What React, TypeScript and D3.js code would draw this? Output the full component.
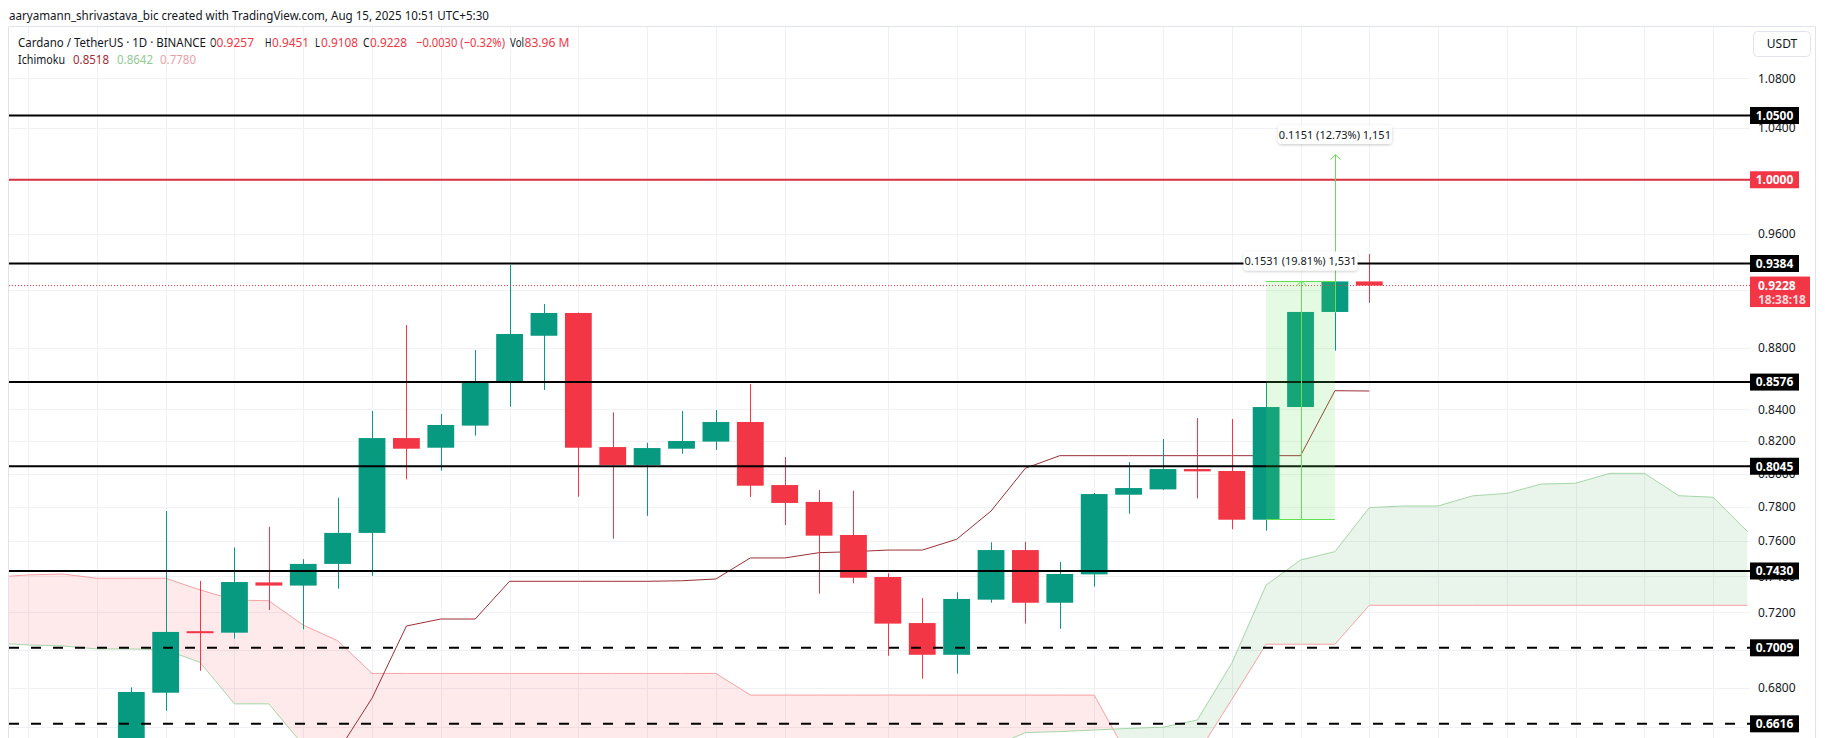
import React from "react";
import * as d3 from "d3";

const W = 1825;
const H = 738;
const plot = { left: 9, right: 1750, top: 27, bottom: 738 };

// daily candles, Jul 10 -> Aug 15 2025 : [open, high, low, close]
const candles: [number, number, number, number][] = [
  [0.638, 0.6802, 0.63, 0.6778],
  [0.6774, 0.7776, 0.6682, 0.7094],
  [0.7098, 0.7374, 0.6888, 0.709],
  [0.709, 0.7563, 0.7058, 0.7368],
  [0.7366, 0.7684, 0.7213, 0.7348],
  [0.7348, 0.7497, 0.7108, 0.747],
  [0.747, 0.7855, 0.7331, 0.7648],
  [0.7648, 0.839, 0.7403, 0.8219],
  [0.8219, 0.8956, 0.7966, 0.8153],
  [0.8159, 0.8371, 0.8018, 0.8301],
  [0.8297, 0.8787, 0.8234, 0.8575],
  [0.8583, 0.9373, 0.8417, 0.8895],
  [0.8883, 0.91, 0.8525, 0.9038],
  [0.9038, 0.904, 0.7861, 0.8159],
  [0.8163, 0.8381, 0.7615, 0.8053],
  [0.8053, 0.819, 0.7748, 0.8157],
  [0.8153, 0.839, 0.8122, 0.8201],
  [0.8197, 0.8396, 0.8145, 0.832],
  [0.832, 0.8563, 0.7859, 0.7927],
  [0.7931, 0.8102, 0.7694, 0.7824],
  [0.783, 0.7901, 0.7303, 0.7632],
  [0.7636, 0.7897, 0.7361, 0.7392],
  [0.7396, 0.7417, 0.6967, 0.7139],
  [0.7142, 0.7279, 0.6847, 0.6972],
  [0.6972, 0.7311, 0.6873, 0.7274],
  [0.727, 0.7594, 0.7253, 0.7549],
  [0.7549, 0.7597, 0.7139, 0.7253],
  [0.7253, 0.7481, 0.7111, 0.7413],
  [0.7411, 0.7883, 0.7342, 0.7877],
  [0.7873, 0.8071, 0.776, 0.7913],
  [0.7905, 0.8213, 0.7901, 0.8028],
  [0.8028, 0.8345, 0.7851, 0.8014],
  [0.8016, 0.8339, 0.7669, 0.7725],
  [0.7725, 0.8576, 0.7661, 0.8415],
  [0.8415, 0.906, 0.84, 0.9045],
  [0.9045, 0.938, 0.8783, 0.9257],
  [0.9257, 0.9451, 0.9108, 0.9228],
];

// ichimoku base line, one value per candle
const baseLine = [
  0.62, 0.62, 0.62, 0.62, 0.62, 0.624, 0.6476, 0.6746, 0.7126, 0.7164, 0.7164,
  0.7372, 0.7372, 0.7372, 0.7372, 0.7372, 0.7375, 0.7385, 0.7504, 0.7504,
  0.7534, 0.754, 0.7549, 0.7549, 0.7611, 0.7776, 0.8033, 0.811, 0.811, 0.811,
  0.811, 0.811, 0.811, 0.811, 0.811, 0.852, 0.8518,
];

// leading spans (cloud), first value sits at bar index -4
const cloudStart = -4;
const leadA = [
  0.7035, 0.7024, 0.7019, 0.7003, 0.7003, 0.6998, 0.6932, 0.6717, 0.6717,
  0.651, 0.638, 0.633, 0.631, 0.629, 0.629, 0.626, 0.624, 0.624, 0.623, 0.623,
  0.625, 0.627, 0.629, 0.631, 0.633, 0.635, 0.638, 0.642, 0.646, 0.65, 0.6572,
  0.6577, 0.6585, 0.6593, 0.6599, 0.6635, 0.6927, 0.7351, 0.7492, 0.754,
  0.7796, 0.7806, 0.7806, 0.7866, 0.7881, 0.7937, 0.7942, 0.8002, 0.8002,
  0.7867, 0.7858, 0.7655,
];
const leadB = [
  0.7395, 0.7408, 0.7413, 0.7389, 0.7389, 0.7389, 0.7324, 0.7268, 0.7264,
  0.7131, 0.7047, 0.6874, 0.6874, 0.6874, 0.6874, 0.6874, 0.6874, 0.6874,
  0.6874, 0.6874, 0.6874, 0.6874, 0.6762, 0.6762, 0.6762, 0.6762, 0.6762,
  0.6762, 0.6762, 0.6762, 0.6762, 0.6762, 0.6762, 0.6451, 0.645, 0.6466,
  0.6739, 0.7028, 0.7028, 0.7028, 0.7239, 0.7239, 0.7239, 0.7239, 0.7239,
  0.7239, 0.7239, 0.7239, 0.7239, 0.7239, 0.7239, 0.7239,
];

const levelsSolid = [1.05, 0.9384, 0.8576, 0.8045, 0.743];
const levelsDashed = [0.7009, 0.6616];
const redLevel = 1.0;
const lastPrice = 0.9228;
const countdown = "18:38:18";

const yTicks = [1.08, 1.04, 1.0, 0.96, 0.92, 0.88, 0.84, 0.82, 0.8, 0.78, 0.76, 0.74, 0.72, 0.7, 0.68, 0.66];
// labels that the price tags cover completely are not printed
const hiddenTickLabels = [1.0, 0.92, 0.7];
// bar indices where the time axis puts a grid line
const gridBars = [-3, -1, 1, 3, 5, 7, 9, 11, 13, 15, 17, 19, 22, 24, 26, 28, 30, 32, 34, 36, 38, 40, 42, 44, 46];

const measures = [
  { from: 33, to: 35, at: 34, p0: 0.7729, p1: 0.926, label: "0.1531 (19.81%) 1,531", box: true },
  { from: 35, to: 35, at: 35, p0: 0.9042, p1: 1.0193, label: "0.1151 (12.73%) 1,151", box: false },
];

const legendMain = [
  { t: "Cardano / TetherUS · 1D · BINANCE", x: 18, w: 188, c: "#131722" },
  { t: "O", x: 210, w: 6.5, c: "#131722" },
  { t: "0.9257", x: 216.5, w: 37.5, c: "#f23645" },
  { t: "H", x: 265, w: 6.5, c: "#131722" },
  { t: "0.9451", x: 272, w: 37, c: "#f23645" },
  { t: "L", x: 315, w: 5, c: "#131722" },
  { t: "0.9108", x: 321, w: 37, c: "#f23645" },
  { t: "C", x: 363, w: 6.5, c: "#131722" },
  { t: "0.9228", x: 370, w: 37, c: "#f23645" },
  { t: "−0.0030 (−0.32%)", x: 416, w: 89, c: "#f23645" },
  { t: "Vol", x: 510, w: 14, c: "#131722" },
  { t: "83.96 M", x: 524.5, w: 45, c: "#f23645" },
];
const legendIchi = [
  { t: "Ichimoku", x: 18, w: 47, c: "#131722" },
  { t: "0.8518", x: 73, w: 36, c: "#a12b32" },
  { t: "0.8642", x: 117, w: 36, c: "#8fca91" },
  { t: "0.7780", x: 160, w: 36, c: "#e9a1a4" },
];

const UP = "#089981";
const DOWN = "#f23645";
const FONT = "'Noto Sans', 'Open Sans', sans-serif";

export default function App() {
  const x = d3.scaleLinear().domain([0, 36]).range([131.3, 1369.3]);
  const y = d3.scaleLog().domain([0.66, 1.08]).range([727, 78.4]);
  const bodyW = 26.8;

  const cloudPts = leadA.map((a, k) => ({ i: k + cloudStart, a, b: leadB[k] }));
  type P = { i: number; a: number; b: number };
  const areaAB = d3.area<P>().x((d) => x(d.i)).y0((d) => y(d.a)).y1((d) => y(d.b))(cloudPts) as string;
  const aboveB = d3.area<P>().x((d) => x(d.i)).y0(0).y1((d) => y(d.b))(cloudPts) as string;
  const belowB = d3.area<P>().x((d) => x(d.i)).y0((d) => y(d.b)).y1(H + 100)(cloudPts) as string;
  const lineA = d3.line<P>().x((d) => x(d.i)).y((d) => y(d.a))(cloudPts) as string;
  const lineB = d3.line<P>().x((d) => x(d.i)).y((d) => y(d.b))(cloudPts) as string;
  const basePath = d3
    .line<number>()
    .x((_, i) => x(i))
    .y((d) => y(d))(baseLine) as string;

  const tag = (p: number, key: string, fill = "#000") => (
    <g key={key}>
      <rect x={1750} y={y(p) - 8.5} width={49} height={17} fill={fill} />
      <text x={1774.5} y={y(p) + 4.3} textAnchor="middle" fontSize={12} fontWeight={700} fill="#fff">
        {p.toFixed(4)}
      </text>
    </g>
  );

  return (
    <svg
      width={W}
      height={H}
      style={{ position: "absolute", left: 0, top: 0, background: "#fff" }}
      fontFamily={FONT}
    >
      <defs>
        <clipPath id="plot">
          <rect x={plot.left} y={plot.top} width={plot.right - plot.left} height={plot.bottom - plot.top} />
        </clipPath>
        <clipPath id="aboveB">
          <path d={aboveB} />
        </clipPath>
        <clipPath id="belowB">
          <path d={belowB} />
        </clipPath>
        <filter id="shadow" x="-20%" y="-50%" width="140%" height="200%">
          <feDropShadow dx={0} dy={1} stdDeviation={1.5} floodColor="#000" floodOpacity={0.22} />
        </filter>
      </defs>

      <rect width={W} height={H} fill="#fff" />

      {/* title */}
      <text x={9} y={19.5} fontSize={13} fill="#131722" textLength={480} lengthAdjust="spacingAndGlyphs">
        aaryamann_shrivastava_bic created with TradingView.com, Aug 15, 2025 10:51 UTC+5:30
      </text>

      {/* frame */}
      <path d={`M8.5,${H} V26.5 H1815.5 V${H}`} fill="none" stroke="#e0e3eb" />

      {/* grid */}
      <g clipPath="url(#plot)" stroke="#f0f1f4" strokeWidth={1}>
        {yTicks.map((t) => (
          <line key={t} x1={plot.left} x2={1815} y1={Math.round(y(t)) + 0.5} y2={Math.round(y(t)) + 0.5} />
        ))}
        {gridBars.map((b) => (
          <line key={b} x1={Math.round(x(b)) + 0.5} x2={Math.round(x(b)) + 0.5} y1={plot.top} y2={plot.bottom} />
        ))}
      </g>

      {/* legend */}
      <g fontSize={13}>
        {legendMain.map((s) => (
          <text key={s.x} x={s.x} y={47} fill={s.c} textLength={s.w} lengthAdjust="spacingAndGlyphs">
            {s.t}
          </text>
        ))}
        {legendIchi.map((s) => (
          <text key={s.x} x={s.x} y={64} fill={s.c} textLength={s.w} lengthAdjust="spacingAndGlyphs">
            {s.t}
          </text>
        ))}
      </g>

      <g clipPath="url(#plot)">
        {/* cloud */}
        <path d={areaAB} fill="rgba(76,175,80,0.12)" clipPath="url(#aboveB)" />
        <path d={areaAB} fill="rgba(242,54,69,0.11)" clipPath="url(#belowB)" />
        <path d={lineA} fill="none" stroke="#a5d6a7" strokeWidth={1} />
        <path d={lineB} fill="none" stroke="#f7a1a4" strokeWidth={1} />
        {/* base line */}
        <path d={basePath} fill="none" stroke="#9c3036" strokeWidth={1} />

        {/* candles */}
        {candles.map(([o, h, l, c], i) => {
          const col = c >= o ? UP : DOWN;
          const cx = Math.round(x(i)) + 0.5;
          const top = y(Math.max(o, c));
          const bh = Math.max(2, y(Math.min(o, c)) - top);
          return (
            <g key={i}>
              <line x1={cx} x2={cx} y1={y(h)} y2={y(l)} stroke={col} strokeWidth={1} />
              <rect x={x(i) - bodyW / 2} y={top} width={bodyW} height={bh} fill={col} />
            </g>
          );
        })}

        {/* last price */}
        <line x1={plot.left} x2={plot.right} y1={y(lastPrice)} y2={y(lastPrice)} stroke={DOWN} strokeWidth={1} strokeDasharray="1 2" />

        {/* horizontal levels */}
        {levelsSolid.map((p) => (
          <line key={p} x1={plot.left} x2={plot.right} y1={y(p)} y2={y(p)} stroke="#000" strokeWidth={2} />
        ))}
        {levelsDashed.map((p) => (
          <line key={p} x1={plot.left} x2={plot.right} y1={y(p)} y2={y(p)} stroke="#000" strokeWidth={2} strokeDasharray="10 12" />
        ))}
        <line x1={plot.left} x2={plot.right} y1={y(redLevel)} y2={y(redLevel)} stroke="#d8313f" strokeWidth={2} />

        {/* measurements */}
        {measures.map((m) => {
          const ax = Math.round(x(m.at)) + 0.5;
          const yt = y(m.p1);
          const yb = y(m.p0);
          return (
            <g key={m.label} stroke="#62e052" fill="none" strokeWidth={1}>
              {m.box && (
                <>
                  <rect x={x(m.from)} y={yt} width={x(m.to) - x(m.from)} height={yb - yt} fill="rgba(92,225,82,0.17)" stroke="none" />
                  <line x1={x(m.from)} x2={x(m.to)} y1={Math.round(yt) + 0.5} y2={Math.round(yt) + 0.5} />
                  <line x1={x(m.from)} x2={x(m.to)} y1={Math.round(yb) + 0.5} y2={Math.round(yb) + 0.5} />
                </>
              )}
              <line x1={ax} x2={ax} y1={yb} y2={yt} />
              <path d={`M${ax - 5},${yt + 5} L${ax},${yt} L${ax + 5},${yt + 5}`} />
            </g>
          );
        })}
      </g>

      {/* measurement labels */}
      {measures.map((m) => {
        const cx = x(m.at);
        const cy = y(m.p1) - 20;
        return (
          <g key={"l" + m.label}>
            <rect x={cx - 57} y={cy - 9.5} width={114} height={19} rx={4} fill="#fff" filter="url(#shadow)" />
            <text x={cx} y={cy + 4} textAnchor="middle" fontSize={11} fill="#131722">
              {m.label}
            </text>
          </g>
        );
      })}

      {/* price axis */}
      <g fontSize={12} fill="#131722">
        {yTicks
          .filter((t) => !hiddenTickLabels.includes(t))
          .map((t) => (
            <text key={t} x={1758} y={y(t) + 4.3}>
              {t.toFixed(4)}
            </text>
          ))}
      </g>
      {levelsSolid.map((p) => tag(p, "s" + p))}
      {levelsDashed.map((p) => tag(p, "d" + p))}
      {tag(redLevel, "red", DOWN)}
      <g>
        <rect x={1750} y={y(lastPrice) - 9} width={60} height={30.5} fill={DOWN} />
        <text x={1758} y={y(lastPrice) + 4.3} fontSize={12} fontWeight={700} fill="#fff">
          {lastPrice.toFixed(4)}
        </text>
        <text x={1758} y={y(lastPrice) + 18.5} fontSize={12} fontWeight={700} fill="#ffd6da">
          {countdown}
        </text>
      </g>

      {/* currency button */}
      <rect x={1753.5} y={31.5} width={57} height={25} rx={4} fill="#fff" stroke="#e0e3eb" />
      <text x={1782} y={48.3} textAnchor="middle" fontSize={12} fill="#131722">
        USDT
      </text>
    </svg>
  );
}
